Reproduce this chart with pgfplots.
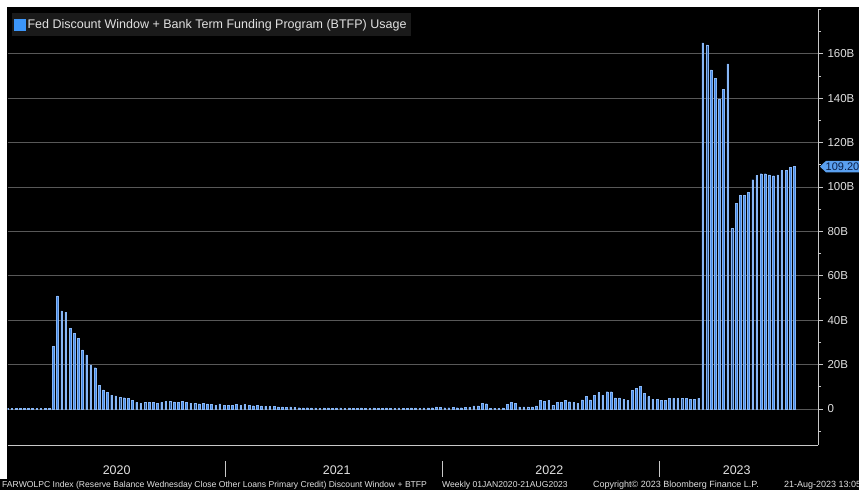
\documentclass[border=0pt]{standalone}
\usepackage{fontspec}
\setmainfont{Liberation Sans}
\usepackage{pgfplots}
\usepackage{pgfplotstable}
\pgfplotsset{compat=1.18}
\definecolor{barblue}{RGB}{66,133,225}
\definecolor{baredge}{RGB}{135,182,245}
\definecolor{gridgrey}{RGB}{88,88,88}
\definecolor{axgrey}{RGB}{200,200,200}
\definecolor{txtgrey}{RGB}{225,225,225}
\definecolor{legbg}{RGB}{26,26,26}
\definecolor{legsq}{RGB}{60,150,250}
\definecolor{tagfill}{RGB}{90,160,240}
\definecolor{tagtext}{RGB}{10,30,70}

\pgfplotstableread{
w v
0 0.2
1 0.2
2 0.2
3 0.2
4 0.2
5 0.2
6 0.2
7 0.2
8 0.2
9 0.2
10 0.2
11 28.1
12 51.0
13 44.2
14 43.6
15 36.4
16 34.2
17 31.9
18 26.6
19 24.4
20 19.9
21 18.6
22 10.8
23 8.6
24 7.5
25 6.3
26 5.9
27 5.2
28 5.1
29 4.8
30 3.8
31 3.0
32 2.6
33 3.0
34 2.9
35 3.0
36 2.6
37 3.0
38 3.5
39 3.5
40 3.2
41 3.0
42 3.5
43 3.0
44 2.7
45 2.6
46 2.3
47 2.6
48 2.3
49 2.0
50 1.8
51 2.3
52 1.7
53 1.8
54 1.8
55 2.0
56 1.7
57 2.0
58 1.6
59 1.5
60 1.8
61 1.4
62 1.2
63 1.1
64 1.3
65 1.0
66 1.0
67 0.9
68 1.0
69 0.7
70 0.6
71 0.5
72 0.6
73 0.5
74 0.5
75 0.4
76 0.5
77 0.5
78 0.4
79 0.5
80 0.5
81 0.4
82 0.5
83 0.4
84 0.4
85 0.5
86 0.4
87 0.4
88 0.5
89 0.4
90 0.4
91 0.5
92 0.4
93 0.4
94 0.5
95 0.4
96 0.4
97 0.5
98 0.5
99 0.4
100 0.5
101 0.5
102 0.6
103 1.0
104 0.7
105 0.6
106 0.6
107 0.7
108 0.6
109 0.6
110 0.7
111 0.8
112 1.4
113 1.4
114 2.6
115 2.4
116 0.4
117 0.4
118 0.4
119 0.5
120 2.1
121 3.0
122 2.6
123 1.0
124 1.0
125 1.0
126 1.0
127 1.4
128 3.8
129 3.6
130 4.0
131 1.8
132 2.9
133 2.9
134 3.9
135 3.3
136 3.0
137 2.6
138 4.1
139 5.6
140 4.1
141 6.3
142 7.4
143 6.3
144 7.8
145 7.8
146 5.0
147 5.0
148 4.3
149 3.8
150 8.3
151 9.3
152 10.1
153 7.1
154 5.6
155 4.5
156 4.5
157 3.8
158 3.8
159 4.8
160 4.8
161 4.8
162 4.8
163 4.8
164 4.5
165 4.5
166 4.8
167 164.9
168 164.0
169 152.8
170 149.0
171 139.4
172 143.9
173 155.5
174 81.3
175 92.5
176 96.3
177 96.3
178 97.5
179 103.3
180 105.2
181 106.0
182 106.0
183 105.5
184 105.1
185 105.5
186 107.5
187 107.5
188 109.0
189 109.2
}\usage

\begin{document}
\begin{tikzpicture}[x=1pt,y=1pt]
\useasboundingbox (0,0) rectangle (859,490);
\clip (0,0) rectangle (859,490);
\fill[white] (0,0) rectangle (859,490);
\fill[black] (7,0) rectangle (859,483);
\fill[black] (0,0) rectangle (859,11);
\begin{axis}[
  at={(7.5pt,45pt)}, anchor=south west, scale only axis,
  width=810.5pt, height=435.6pt,
  xmin=0, xmax=194.7, ymin=-16.2, ymax=180,
  axis x line*=bottom, axis y line*=right,
  axis line style={axgrey, line width=0.8pt, -},
  tick align=outside,
  major tick length=5pt, minor tick length=3pt,
  tick style={axgrey, line width=0.8pt},
  xtick=\empty,
  minor xtick={0,3,...,192},
  ytick={0,20,...,160},
  yticklabels={0,20B,40B,60B,80B,100B,120B,140B,160B},
  minor ytick={-10,10,30,50,70,90,110,130,150,170,180},
  yticklabel style={text=txtgrey, font=\fontsize{11.5}{13}\selectfont, xshift=1pt},
  ymajorgrids,
  grid style={gridgrey, line width=0.8pt},
  legend style={at={(0,1)}, anchor=north west, xshift=4.5pt, yshift=-3.6pt,
    fill=legbg, draw=none, text=txtgrey, font=\fontsize{12.5}{14}\selectfont,
    inner xsep=2pt, inner ysep=4pt},
  legend image code/.code={\fill[legsq] (0pt,-5.5pt) rectangle (11pt,5.5pt);},
]
\addplot[ybar, bar width=1.7pt, fill=barblue, draw=baredge, line width=0.35pt] table[x=w, y=v] {\usage};
\addlegendentry{Fed Discount Window + Bank Term Funding Program (BTFP) Usage}
\end{axis}
% year separators and labels
\foreach \xs in {225.2,442.2,659.3} {\draw[axgrey, line width=0.8pt] (\xs,29) -- (\xs,13);}
\node[text=txtgrey, font=\fontsize{12.5}{14}\selectfont] at (116.7,19.5) {2020};
\node[text=txtgrey, font=\fontsize{12.5}{14}\selectfont] at (336.7,19.5) {2021};
\node[text=txtgrey, font=\fontsize{12.5}{14}\selectfont] at (549.3,19.5) {2022};
\node[text=txtgrey, font=\fontsize{12.5}{14}\selectfont] at (736.7,19.5) {2023};
% footer
\node[anchor=west, inner sep=0pt, text=txtgrey, font=\fontsize{8.6}{10}\selectfont] at (2,5) {FARWOLPC Index (Reserve Balance Wednesday Close Other Loans Primary Credit) Discount Window + BTFP};
\node[anchor=west, inner sep=0pt, text=txtgrey, font=\fontsize{8.6}{10}\selectfont] at (442,5) {Weekly 01JAN2020-21AUG2023};
\node[anchor=west, inner sep=0pt, text=txtgrey, font=\fontsize{9}{10}\selectfont] at (593,5) {Copyright© 2023 Bloomberg Finance L.P.};
\node[anchor=west, inner sep=0pt, text=txtgrey, font=\fontsize{9}{10}\selectfont] at (784,5) {21-Aug-2023 13:05};
% last value tag
\fill[tagfill] (820,323.4) -- (826,329.2) -- (862,329.2) -- (862,317.6) -- (826,317.6) -- cycle;
\node[anchor=west, inner sep=0pt, text=tagtext, font=\fontsize{11}{12}\selectfont] at (825.5,323.4) {109.20};
\end{tikzpicture}
\end{document}
